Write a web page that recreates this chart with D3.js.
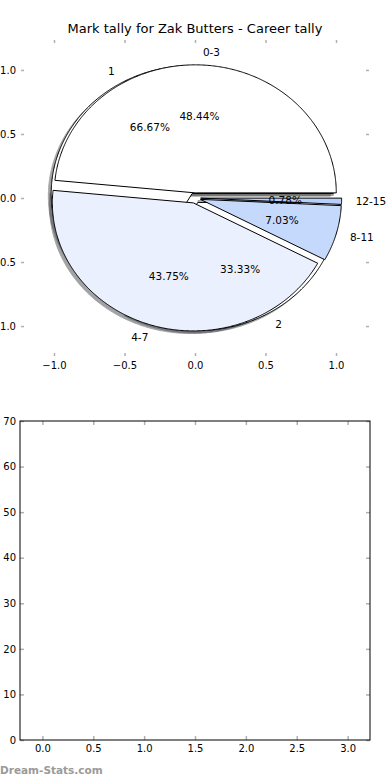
<!DOCTYPE html>
<html>
<head>
<meta charset="utf-8">
<script src="https://cdn.jsdelivr.net/npm/d3@7"></script>
<style>
    body { margin: 0; background: #fff; }
    svg text { font-family: "DejaVu Sans", sans-serif; fill: #000; }
    .tick line { stroke: #b0b0b0; stroke-width: 1.5; }
</style>
</head>
<body>
<svg id="chart" width="390" height="780"></svg>
<script>
// career mark tally, bucketed by range
const outerLabels = ['0-3', '4-7', '8-11', '12-15'];
const outerValues = [62, 56, 9, 1];
const outerColors = ['#ffffff', '#eaf0fd', '#c5d9fc', '#b6cffb'];

// tally by count per game
const innerLabels = ['1', '2'];
const innerValues = [2, 1];
const innerColors = ['#ffffff', '#ffffff'];

const pieTicks = [-1.0, -0.5, 0.0, 0.5, 1.0];
const barXTicks = [0.0, 0.5, 1.0, 1.5, 2.0, 2.5, 3.0];
const barYTicks = [0, 10, 20, 30, 40, 50, 60, 70];

const TITLE = 'Mark tally for Zak Butters - Career tally';
const EXPLODE = 0.04;
const SHADOW = { dx: -0.02, dy: -0.02 };

const svg = d3.select('#chart');

// ---- pie axes ----
const px = d3.scaleLinear().domain([-1.234, 1.234]).range([21, 369]);
const py = d3.scaleLinear().domain([-1.234, 1.234]).range([356, 40]);

svg.append('text')
    .attr('x', 195)
    .attr('y', 33)
    .attr('text-anchor', 'middle')
    .style('font-size', '13px')
    .text(TITLE);

const fmtTick = d3.format('.1f');

const pieAxes = svg.append('g');
pieAxes.append('g')
    .attr('transform', `translate(0,${py.range()[0]})`)
    .call(d3.axisBottom(px).tickValues(pieTicks).tickFormat(fmtTick).tickSize(-3).tickPadding(6));
pieAxes.append('g')
    .attr('transform', `translate(0,${py.range()[1]})`)
    .call(d3.axisTop(px).tickValues(pieTicks).tickFormat('').tickSize(-3));
pieAxes.append('g')
    .attr('transform', `translate(${px.range()[0]},0)`)
    .call(d3.axisLeft(py).tickValues(pieTicks).tickFormat(fmtTick).tickSize(-3).tickPadding(5));
pieAxes.append('g')
    .attr('transform', `translate(${px.range()[1]},0)`)
    .call(d3.axisRight(py).tickValues(pieTicks).tickFormat('').tickSize(-3));
pieAxes.selectAll('.domain').remove();
pieAxes.selectAll('.tick text').style('font-size', '10px').attr('fill', '#000');

// convert d3 pie layout into matplotlib style wedges (ccw from east, exploded)
const rad = (deg) => deg * Math.PI / 180;

function buildWedges(values, labels, colors) {
    const arcs = d3.pie().sort(null)(values);
    const total = d3.sum(values);
    return arcs.map((a, i) => {
        const t0 = a.startAngle / (2 * Math.PI) * 360;
        const t1 = a.endAngle / (2 * Math.PI) * 360;
        const tm = (t0 + t1) / 2;
        const cx = EXPLODE * Math.cos(rad(tm));
        const cy = EXPLODE * Math.sin(rad(tm));
        return { t0, t1, tm, cx, cy, label: labels[i], color: colors[i], pct: 100 * values[i] / total };
    });
}

function wedgePath(w, ox, oy) {
    const pts = [[w.cx + ox, w.cy + oy]];
    const n = Math.max(2, Math.ceil((w.t1 - w.t0) / 0.5));
    for (let k = 0; k <= n; k++) {
        const t = rad(w.t0 + (w.t1 - w.t0) * k / n);
        pts.push([w.cx + ox + Math.cos(t), w.cy + oy + Math.sin(t)]);
    }
    return 'M' + pts.map(p => `${px(p[0])},${py(p[1])}`).join('L') + 'Z';
}

const shade = (c) => {
    const rgb = d3.rgb(c);
    return d3.rgb(rgb.r * 0.3, rgb.g * 0.3, rgb.b * 0.3).toString();
};

const inner = buildWedges(innerValues, innerLabels, innerColors);
const outer = buildWedges(outerValues, outerLabels, outerColors);
const allWedges = inner.concat(outer);

const pieG = svg.append('g');

// shadows sit under every wedge
pieG.selectAll('path.shadow')
    .data(allWedges)
    .enter()
    .append('path')
    .attr('class', 'shadow')
    .attr('d', (w) => wedgePath(w, SHADOW.dx, SHADOW.dy))
    .attr('fill', (w) => shade(w.color))
    .attr('stroke', (w) => shade(w.color))
    .attr('stroke-width', 1)
    .attr('opacity', 0.5);

pieG.selectAll('path.wedge')
    .data(allWedges)
    .enter()
    .append('path')
    .attr('class', 'wedge')
    .attr('d', (w) => wedgePath(w, 0, 0))
    .attr('fill', (w) => w.color)
    .attr('stroke', '#000')
    .attr('stroke-width', 1)
    .attr('stroke-linejoin', 'miter');

// labels at 1.1, percentages at 0.6
pieG.selectAll('text.lab')
    .data(allWedges)
    .enter()
    .append('text')
    .attr('class', 'lab')
    .attr('x', (w) => px(w.cx + 1.1 * Math.cos(rad(w.tm))))
    .attr('y', (w) => py(w.cy + 1.1 * Math.sin(rad(w.tm))))
    .attr('dy', '0.35em')
    .attr('text-anchor', (w) => (Math.cos(rad(w.tm)) > 0 ? 'start' : 'end'))
    .style('font-size', '10.5px')
    .text((w) => w.label);

pieG.selectAll('text.pct')
    .data(allWedges)
    .enter()
    .append('text')
    .attr('class', 'pct')
    .attr('x', (w) => px(w.cx + 0.6 * Math.cos(rad(w.tm))))
    .attr('y', (w) => py(w.cy + 0.6 * Math.sin(rad(w.tm))))
    .attr('dy', '0.35em')
    .attr('text-anchor', 'middle')
    .style('font-size', '10.5px')
    .text((w) => d3.format('.2f')(w.pct) + '%');

// ---- empty bar axes ----
const bx = d3.scaleLinear().domain([-0.22, 3.22]).range([20, 370]);
const by = d3.scaleLinear().domain([0, 70]).range([740, 421]);

const barAxes = svg.append('g');
barAxes.append('g')
    .attr('transform', `translate(0,${by.range()[0]})`)
    .call(d3.axisBottom(bx).tickValues(barXTicks).tickFormat(fmtTick).tickSize(-4).tickPadding(5));
barAxes.append('g')
    .attr('transform', `translate(0,${by.range()[1]})`)
    .call(d3.axisTop(bx).tickValues(barXTicks).tickFormat('').tickSize(-4));
barAxes.append('g')
    .attr('transform', `translate(${bx.range()[0]},0)`)
    .call(d3.axisLeft(by).tickValues(barYTicks).tickFormat(d3.format('d')).tickSize(-4).tickPadding(4));
barAxes.append('g')
    .attr('transform', `translate(${bx.range()[1]},0)`)
    .call(d3.axisRight(by).tickValues(barYTicks).tickFormat('').tickSize(-4));
barAxes.selectAll('.domain').remove();
barAxes.selectAll('.tick text').style('font-size', '10px').attr('fill', '#000');

barAxes.append('rect')
    .attr('x', bx.range()[0])
    .attr('y', by.range()[1])
    .attr('width', bx.range()[1] - bx.range()[0])
    .attr('height', by.range()[0] - by.range()[1])
    .attr('fill', 'none')
    .attr('stroke', '#000')
    .attr('stroke-width', 1);

svg.append('text')
    .attr('x', 0)
    .attr('y', 774)
    .style('font-size', '10.5px')
    .style('font-weight', 'bold')
    .style('fill', '#9a9a9a')
    .text('Dream-Stats.com');
</script>
</body>
</html>
